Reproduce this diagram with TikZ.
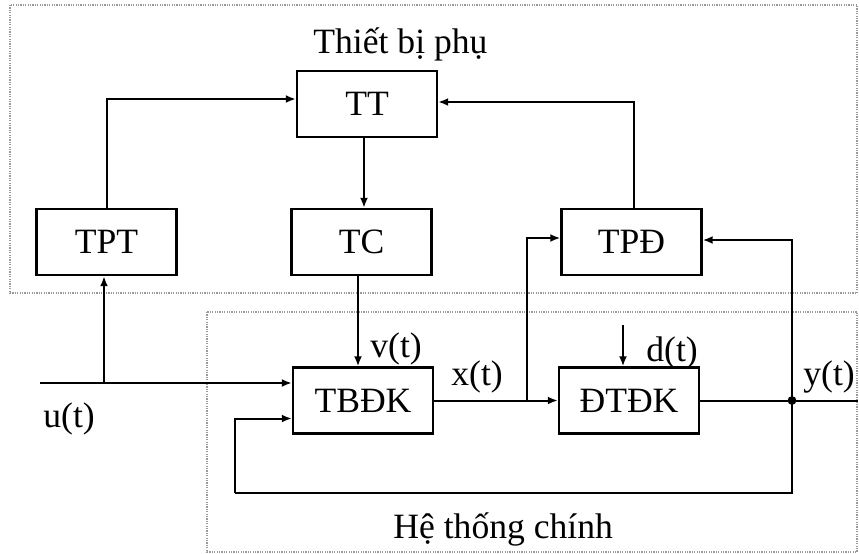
\documentclass[tikz,border=0pt]{standalone}
\usepackage{fontspec}
\setmainfont{Liberation Serif}
\usetikzlibrary{arrows.meta,calc}
\begin{document}
\begin{tikzpicture}[x=0.5pt,y=-0.5pt,
  every node/.style={font=\fontsize{17.8}{20}\selectfont, inner sep=0pt},
  blockbox/.style={draw, line width=1.2pt, minimum width=70pt, minimum height=33pt},
  lbl/.style={anchor=base west},
  arr/.style={line width=1pt, -{Latex[length=5pt,width=4pt]}},
  wire/.style={line width=1pt},
  region/.style={draw=gray!80, line width=0.6pt, dash pattern=on 0.6pt off 0.6pt}]
\useasboundingbox (0,0) rectangle (859,553);
% regions
\draw[region] (10,5) rectangle (857,293);
\draw[region] (207,312) rectangle (857,552);
% blocks
\node[blockbox] (tt)   at (367,104)   {TT};
\node[blockbox] (tpt)  at (106.5,242) {TPT};
\node[blockbox] (tc)   at (361.5,242) {TC};
\node[blockbox] (tpd)  at (631.5,242) {TPĐ};
\node[blockbox] (tbdk) at (363,400.5) {TBĐK};
\node[blockbox] (dtdk) at (629,400.5) {ĐTĐK};
% labels
\node[lbl] (ltb) at (313,53)  {Thiết bị phụ};
\node[lbl] (lht) at (393,538) {Hệ thống chính};
\node[lbl] (lv)  at (370,357) {v(t)};
\node[lbl] (ld)  at (646,361) {d(t)};
\node[lbl] (lx)  at (451,385) {x(t)};
\node[lbl] (ly)  at (803,385) {y(t)};
\node[lbl] (lu)  at (43,427)  {u(t)};
% coordinates
\coordinate (uin) at (40,383);
\coordinate (ub) at (104,383);
\coordinate (xb) at (527,400.5);
\coordinate (ydot) at (792,400.5);
\coordinate (yout) at (858,400.5);
\coordinate (fb) at (235,493);
\coordinate (din) at (623,325);
\coordinate (ttb) at ($(tt.south)+(-3,0)$);
\coordinate (tcb) at ($(tc.south)+(-3.5,0)$);
\coordinate (tpdt) at ($(tpd.north)+(2.5,0)$);
% connectors
\draw[arr] (tpt.north) |- ([yshift=2.5pt]tt.west);
\draw[arr] (tpdt) |- ([yshift=1pt]tt.east);
\draw[arr] (ttb) -- (ttb |- tc.north);
\draw[arr] (tcb) -- (tcb |- tbdk.north);
\draw[arr] (uin) -- (uin -| tbdk.west);
\draw[arr] (ub) -- (ub |- tpt.south);
\draw[arr] (tbdk.east) -- (dtdk.west);
\draw[arr] (xb) |- ([yshift=2pt]tpd.west);
\draw[wire] (dtdk.east) -- (ydot) -- (yout);
\fill (ydot) circle (2.2pt);
\draw[arr] (ydot) |- ([yshift=1pt]tpd.east);
\draw[wire] (ydot) |- (fb);
\draw[arr] (fb) |- ([yshift=-9pt]tbdk.west);
\draw[arr] (din) -- (din |- dtdk.north);
\end{tikzpicture}
\end{document}
